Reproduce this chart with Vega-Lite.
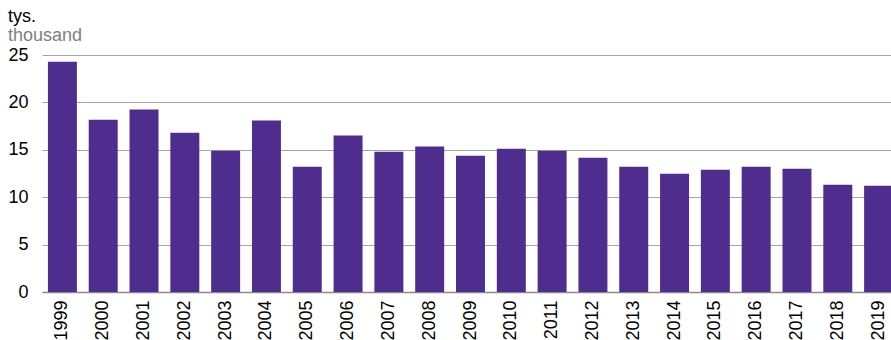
{
  "$schema": "https://vega.github.io/schema/vega-lite/v6.json",
  "autosize": "none",
  "width": 857,
  "height": 237,
  "padding": {"left": 42, "top": 55, "right": 0, "bottom": 48},
  "background": "white",
  "title": {
    "text": "tys.",
    "subtitle": "thousand",
    "anchor": "start",
    "frame": "group",
    "dx": -34,
    "offset": 1,
    "font": "Liberation Sans",
    "fontSize": 18,
    "fontWeight": "normal",
    "color": "#000000",
    "subtitleFont": "Liberation Sans",
    "subtitleFontSize": 18,
    "subtitleColor": "#808080",
    "subtitlePadding": 1
  },
  "data": {
    "values": [
      {"year": "1999", "value": 24.3},
      {"year": "2000", "value": 18.18},
      {"year": "2001", "value": 19.24},
      {"year": "2002", "value": 16.8},
      {"year": "2003", "value": 14.9},
      {"year": "2004", "value": 18.08},
      {"year": "2005", "value": 13.2},
      {"year": "2006", "value": 16.5},
      {"year": "2007", "value": 14.8},
      {"year": "2008", "value": 15.36},
      {"year": "2009", "value": 14.38},
      {"year": "2010", "value": 15.12},
      {"year": "2011", "value": 14.9},
      {"year": "2012", "value": 14.16},
      {"year": "2013", "value": 13.21},
      {"year": "2014", "value": 12.47},
      {"year": "2015", "value": 12.9},
      {"year": "2016", "value": 13.21},
      {"year": "2017", "value": 13.0},
      {"year": "2018", "value": 11.31},
      {"year": "2019", "value": 11.2}
    ]
  },
  "mark": {"type": "bar", "color": "#4f2d8f"},
  "encoding": {
    "x": {
      "field": "year",
      "type": "nominal",
      "sort": null,
      "scale": {"paddingInner": 0.29, "paddingOuter": 0.145},
      "axis": {
        "title": null,
        "labelAngle": -90,
        "labelAlign": "right",
        "labelBaseline": "middle",
        "labelFont": "Liberation Sans",
        "labelFontSize": 18,
        "labelColor": "#000000",
        "labelPadding": 8,
        "ticks": false,
        "domainColor": "#8a8a8a",
        "domainWidth": 1.5
      }
    },
    "y": {
      "field": "value",
      "type": "quantitative",
      "scale": {"domain": [0, 25]},
      "axis": {
        "title": null,
        "values": [0, 5, 10, 15, 20, 25],
        "labelFont": "Liberation Sans",
        "labelFontSize": 18,
        "labelColor": "#000000",
        "labelPadding": 14,
        "ticks": false,
        "domain": false,
        "gridColor": "#a6a6a6",
        "gridWidth": 1
      }
    }
  },
  "config": {"view": {"stroke": null}}
}
